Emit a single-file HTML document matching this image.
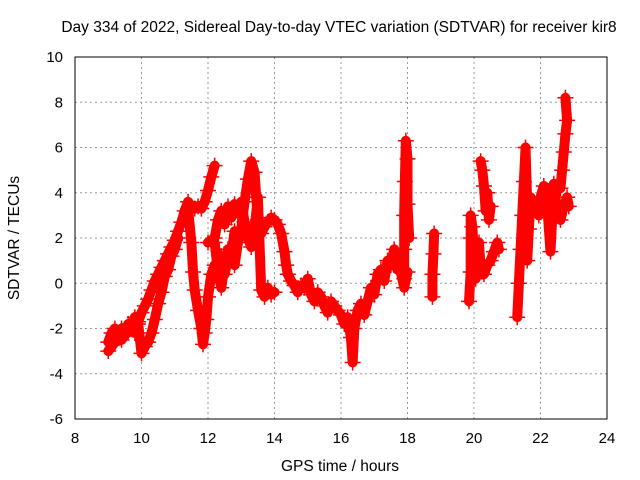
<!DOCTYPE html>
<html><head><meta charset="utf-8"><style>
body{margin:0;background:#fff}
svg{display:block;font-family:"Liberation Sans",sans-serif}
</style></head><body>
<svg id="chart" width="640" height="480">
<text x="339" y="32" font-size="15.5" text-anchor="middle">Day 334 of 2022, Sidereal Day-to-day VTEC variation (SDTVAR) for receiver kir8</text>
<text x="340" y="471" font-size="15.5" text-anchor="middle">GPS time / hours</text>
<text transform="translate(19,238) rotate(-90)" font-size="15.5" text-anchor="middle">SDTVAR / TECUs</text>
<g id="grid"></g><g id="marks"></g>
<rect x="75" y="57" width="532" height="362" fill="none" stroke="#000"/>
</svg>
<script>
const xTicks=[8,10,12,14,16,18,20,22,24];
const yTicks=[-6,-4,-2,0,2,4,6,8,10];
const trackA=[[9.0,-2.6],[9.1,-2.2],[9.2,-2.0],[9.3,-2.4],[9.4,-2.0],[9.5,-2.3],[9.6,-1.8],[9.7,-2.0],[9.8,-1.5],[9.9,-1.7],[10.0,-1.3],[10.1,-1.0],[10.2,-0.7],[10.3,-0.3],[10.4,0.1],[10.5,0.4],[10.6,0.7],[10.7,1.0],[10.8,1.3],[10.9,1.6],[11.0,1.9],[11.1,2.3],[11.2,2.7],[11.3,3.2],[11.4,3.6],[11.5,3.4],[11.6,3.3],[11.7,3.4],[11.8,3.3],[11.9,3.6],[12.0,4.1],[12.1,4.7],[12.2,5.2]];
const trackB=[[9.0,-3.0],[9.2,-2.6],[9.4,-2.5],[9.6,-2.1],[9.8,-2.2],[9.9,-1.8],[10.0,-3.1],[10.1,-2.8],[10.2,-2.6],[10.3,-2.2],[10.4,-1.6],[10.5,-0.9],[10.6,-0.4],[10.7,0.3],[10.8,0.6],[10.9,1.2],[11.0,1.5],[11.1,2.0]];
const trackC=[[11.4,3.3],[11.5,1.8],[11.55,0.5],[11.6,-0.3],[11.7,-1.2],[11.8,-2.0],[11.85,-2.7],[11.9,-2.2],[11.95,-1.6],[12.0,-0.6],[12.1,0.4],[12.2,0.8],[12.3,0.6],[12.4,1.2],[12.5,0.4],[12.6,1.1],[12.7,1.6],[12.8,0.8],[12.9,1.8],[13.0,2.4],[13.1,3.6],[13.2,4.6],[13.3,5.4],[13.4,4.9],[13.45,3.8],[13.5,2.8],[13.6,2.2],[13.7,2.5],[13.8,2.7],[13.9,2.9],[14.0,2.8],[14.1,2.6],[14.2,2.2],[14.3,1.4],[14.35,0.8],[14.4,0.4],[14.5,0.1],[14.6,-0.1],[14.7,-0.4],[14.8,-0.1],[14.9,-0.2],[15.0,0.2],[15.1,-0.5],[15.2,-0.8],[15.3,-0.4],[15.4,-0.6],[15.5,-1.0],[15.6,-1.3],[15.7,-0.8],[15.8,-1.0],[15.9,-1.2],[16.0,-1.4],[16.1,-1.8],[16.2,-1.5],[16.3,-2.4],[16.35,-3.5],[16.4,-2.0],[16.5,-1.2],[16.6,-0.9],[16.7,-1.4],[16.8,-0.8],[16.9,-0.2],[17.0,-0.5],[17.1,0.4],[17.2,0.6],[17.3,0.1],[17.4,1.0],[17.5,0.8],[17.6,1.5],[17.7,0.6],[17.8,0.5],[17.9,-0.2],[18.0,0.5]];
const trackD=[[12.0,1.8],[12.2,2.0],[12.3,2.8],[12.4,3.2],[12.5,2.6],[12.6,3.4],[12.7,2.9],[12.8,3.5],[12.9,3.1],[13.0,3.6],[13.1,2.7],[13.2,2.0],[13.3,1.6],[13.4,2.4],[13.5,3.8],[13.6,-0.3],[13.7,-0.6],[13.8,-0.2],[13.9,-0.5],[14.0,-0.4]];
const trackE=[[12.2,1.8],[12.3,0.5],[12.4,-0.2],[12.5,0.8],[12.6,1.5],[12.7,1.2],[12.8,2.3],[12.9,2.0]];
const spike18=[[17.9,0.2],[17.9,1.5],[17.9,3.0],[17.92,4.5],[17.95,6.3],[18.0,5.5],[18.0,3.5],[18.05,2.0]];
const spike188=[[18.75,-0.6],[18.75,0.4],[18.78,1.3],[18.8,2.2]];
const seg20=[[19.85,-0.8],[19.9,0.5],[19.9,2.0],[19.9,3.0],[19.95,2.5],[20.0,1.2],[20.05,0.2],[20.1,0.8],[20.15,1.8],[20.2,0.6],[20.3,0.4],[20.4,0.8],[20.5,1.0],[20.6,1.4],[20.7,1.8],[20.75,1.5]];
const seg202=[[20.2,5.4],[20.25,5.0],[20.3,4.3],[20.35,3.2],[20.4,4.0],[20.45,2.8],[20.5,3.4]];
const seg214=[[21.3,-1.5],[21.35,0.0],[21.4,1.5],[21.45,3.0],[21.5,4.5],[21.55,6.0],[21.6,3.5],[21.65,2.4],[21.7,3.8],[21.6,1.0]];
const seg22=[[21.95,3.0],[22.0,3.8],[22.1,4.3],[22.2,3.5],[22.3,1.4],[22.35,2.8],[22.4,4.4],[22.5,3.2],[22.6,2.8],[22.7,3.4],[22.8,3.8],[22.85,3.4]];
const seg227=[[22.6,4.2],[22.65,5.0],[22.7,5.8],[22.75,6.6],[22.8,7.2],[22.75,8.2]];
const tracks=[trackA,trackB,trackC,trackD,trackE,spike18,spike188,seg20,seg202,seg214,seg22,seg227];
const X=t=>75+(t-8)*532/16, Y=v=>419-(v+6)*362/16;
const NS='http://www.w3.org/2000/svg';
const grid=document.getElementById('grid'), marks=document.getElementById('marks');
xTicks.forEach(t=>{
  if(t>8&&t<24){const l=document.createElementNS(NS,'line');l.setAttribute('x1',X(t));l.setAttribute('x2',X(t));l.setAttribute('y1',57);l.setAttribute('y2',419);l.setAttribute('stroke','#999');l.setAttribute('stroke-dasharray','2,3');
  
  grid.appendChild(l);}
  const tx=document.createElementNS(NS,'text');tx.setAttribute('x',X(t));tx.setAttribute('y',443);tx.setAttribute('font-size','15');tx.setAttribute('text-anchor','middle');tx.textContent=t;
  
  grid.appendChild(tx);
});
yTicks.forEach(v=>{
  if(v>-6&&v<10){const l=document.createElementNS(NS,'line');l.setAttribute('x1',75);l.setAttribute('x2',607);l.setAttribute('y1',Y(v));l.setAttribute('y2',Y(v));l.setAttribute('stroke','#999');l.setAttribute('stroke-dasharray','2,3');
  
  grid.appendChild(l);}
  const tx=document.createElementNS(NS,'text');tx.setAttribute('x',63);tx.setAttribute('y',Y(v)+5);tx.setAttribute('font-size','15');tx.setAttribute('text-anchor','end');tx.textContent=v;
  
  grid.appendChild(tx);
});
tracks.forEach(tr=>{
  const p=document.createElementNS(NS,'polyline');
  p.setAttribute('points',tr.map(d=>X(d[0])+','+Y(d[1])).join(' '));
  p.setAttribute('fill','none');p.setAttribute('stroke','#f00');p.setAttribute('stroke-width','10');p.setAttribute('stroke-linejoin','round');p.setAttribute('stroke-linecap','round');
  
  
  marks.appendChild(p);
  tr.forEach(d=>{
    const m=document.createElementNS(NS,'path');const x=X(d[0]),y=Y(d[1]);
    m.setAttribute('d',`M${x-8},${y}H${x+8}M${x},${y-8}V${y+8}`);m.setAttribute('stroke','#f00');m.setAttribute('stroke-width','1.5');
    
    
    marks.appendChild(m);
  });
});
</script>
</body></html>
